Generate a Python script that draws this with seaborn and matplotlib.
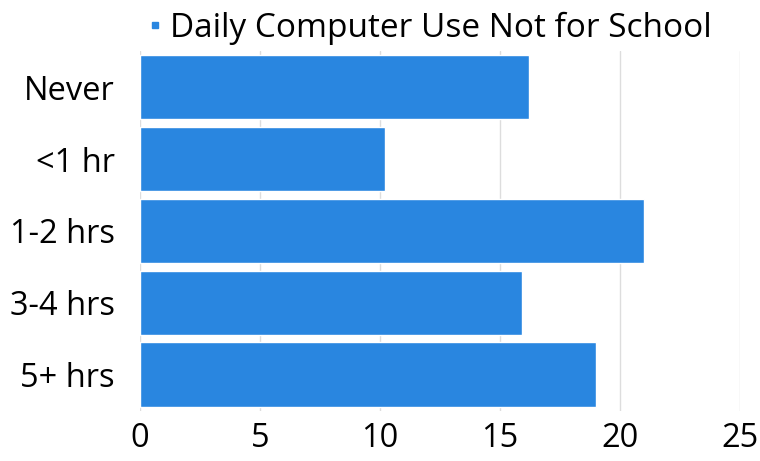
import numpy as np
import pandas as pd
import seaborn as sns
import matplotlib.pyplot as plt
from matplotlib.lines import Line2D

categories = ['Never', '<1 hr', '1-2 hrs', '3-4 hrs', '5+ hrs']
values = [16.2, 10.2, 21.0, 15.9, 19.0]
series_name = 'Daily Computer Use Not for School'
xticks = [0, 5, 10, 15, 20, 25]

df = pd.DataFrame({'Usage': categories, 'Percent': values})

sns.set_style('white')
plt.rcParams['font.family'] = ['Open Sans', 'DejaVu Sans']
plt.rcParams['text.color'] = 'black'

fig = plt.figure(figsize=(7.6, 4.61), dpi=100)
ax = fig.add_axes([0.184, 0.109, 0.79, 0.78])

bar_color = '#2986E0'
sns.barplot(data=df, y='Usage', x='Percent', orient='h', color=bar_color,
            width=0.9, saturation=1, ax=ax)

ax.set_xlim(0, 25)
ax.set_xticks(xticks)
ax.xaxis.grid(True, color='#dddddd', linewidth=1)
ax.set_axisbelow(True)
for s in ax.spines.values():
    s.set_visible(False)
ax.tick_params(axis='both', length=0, labelsize=23.5, labelcolor='black')
ax.tick_params(axis='x', pad=8)
ax.tick_params(axis='y', pad=18)
ax.set_xlabel('')
ax.set_ylabel('')

handle = Line2D([], [], marker='s', linestyle='none', color=bar_color, markersize=5)
fig.legend([handle], [series_name], loc='upper center', bbox_to_anchor=(0.563, 1.04),
           frameon=False, fontsize=24, handletextpad=0.15, handlelength=0.6)

fig.savefig('out.png', dpi=100)
